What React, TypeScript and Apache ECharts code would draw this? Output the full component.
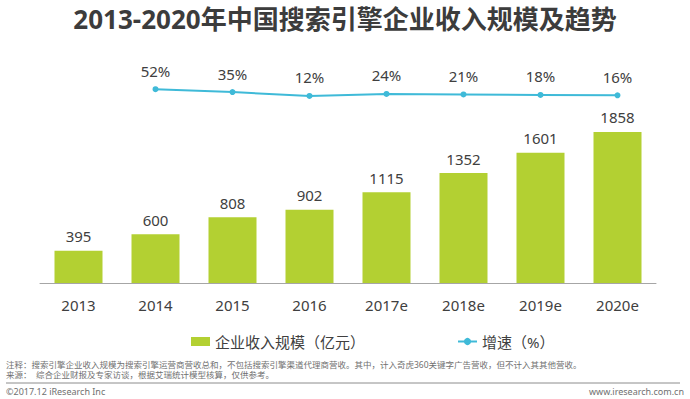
import React, { useEffect, useRef } from "react";
import * as echarts from "echarts";

const categories = ["2013", "2014", "2015", "2016", "2017e", "2018e", "2019e", "2020e"];
const revenue = [395, 600, 808, 902, 1115, 1352, 1601, 1858];
const growth: (number | null)[] = [null, 52, 35, 12, 24, 21, 18, 16];
const seriesNames = ["企业收入规模（亿元）", "增速（%）"];
const titleText = "2013-2020年中国搜索引擎企业收入规模及趋势";
const note1 = "注释：搜索引擎企业收入规模为搜索引擎运营商营收总和，不包括搜索引擎渠道代理商营收。其中，计入奇虎360关键字广告营收，但不计入其其他营收。";
const note2 = "来源：  综合企业财报及专家访谈，根据艾瑞统计模型核算，仅供参考。";
const copyright = "©2017.12 iResearch Inc";
const site = "www.iresearch.com.cn";

const FONT = "'Noto Sans', 'Noto Sans CJK SC', sans-serif";

export default function App() {
  const ref = useRef<HTMLDivElement>(null);
  useEffect(() => {
    if (!ref.current) return;
    const chart = echarts.init(ref.current, undefined, { renderer: "svg" });
    chart.setOption({
      animation: false,
      backgroundColor: "#ffffff",
      textStyle: { fontFamily: FONT },
      title: {
        text: titleText,
        left: "center",
        top: 1,
        textStyle: { fontSize: 26, fontWeight: "bold", color: "#3c3c3c", fontFamily: FONT },
      },
      legend: {
        left: 186,
        top: 329,
        itemWidth: 19,
        itemHeight: 9,
        itemGap: 92,
        textStyle: { fontSize: 15, color: "#404040", fontFamily: FONT },
        data: [
          { name: seriesNames[0], icon: "rect" },
          { name: seriesNames[1] },
        ],
      },
      grid: [
        { left: 40, right: 34, top: 39, bottom: 116 },
        { left: 40, right: 34, top: 81, height: 17 },
      ],
      xAxis: [
        {
          type: "category",
          gridIndex: 0,
          data: categories,
          axisLine: { lineStyle: { color: "#a6a6a6", width: 1 } },
          axisTick: { show: false },
          axisLabel: { fontSize: 15, color: "#404040", margin: 14, fontFamily: FONT },
        },
        {
          type: "category",
          gridIndex: 1,
          data: categories,
          show: false,
        },
      ],
      yAxis: [
        { type: "value", gridIndex: 0, min: 0, max: 3000, show: false, splitLine: { show: false } },
        { type: "value", gridIndex: 1, min: 0, max: 100, show: false, splitLine: { show: false } },
      ],
      series: [
        {
          name: seriesNames[0],
          type: "bar",
          xAxisIndex: 0,
          yAxisIndex: 0,
          data: revenue,
          barWidth: 48,
          itemStyle: { color: "#b3d032" },
          label: {
            show: true,
            position: "top",
            distance: 7,
            fontSize: 15,
            color: "#404040",
            fontFamily: FONT,
          },
        },
        {
          name: seriesNames[1],
          type: "line",
          xAxisIndex: 1,
          yAxisIndex: 1,
          data: growth,
          symbol: "circle",
          symbolSize: 6,
          lineStyle: { color: "#3fbad8", width: 2 },
          itemStyle: { color: "#3fbad8" },
          label: {
            show: true,
            position: "top",
            distance: 8,
            fontSize: 15,
            color: "#404040",
            fontFamily: FONT,
            formatter: (p: any) => p.value + "%",
          },
        },
      ],
      graphic: [
        {
          type: "text",
          x: 6,
          y: 364,
          style: { text: note1, fontSize: 8.5, fill: "#707070", fontFamily: FONT, verticalAlign: "middle", lineHeight: 9 },
        },
        {
          type: "text",
          x: 6,
          y: 374,
          style: { text: note2, fontSize: 8.5, fill: "#707070", fontFamily: FONT, verticalAlign: "middle", lineHeight: 9 },
        },
        {
          type: "line",
          shape: { x1: 6, y1: 383, x2: 680, y2: 383 },
          style: { stroke: "#8c8c8c", lineWidth: 1 },
        },
        {
          type: "text",
          left: 6,
          top: 387,
          style: { text: copyright, fontSize: 9, fill: "#707070", fontFamily: FONT },
        },
        {
          type: "text",
          right: 6,
          top: 387,
          style: { text: site, fontSize: 9, fill: "#707070", fontFamily: FONT },
        },
      ],
    });
    return () => chart.dispose();
  }, []);
  return <div ref={ref} style={{ width: 690, height: 399, position: "absolute", left: 0, top: 0 }} />;
}
